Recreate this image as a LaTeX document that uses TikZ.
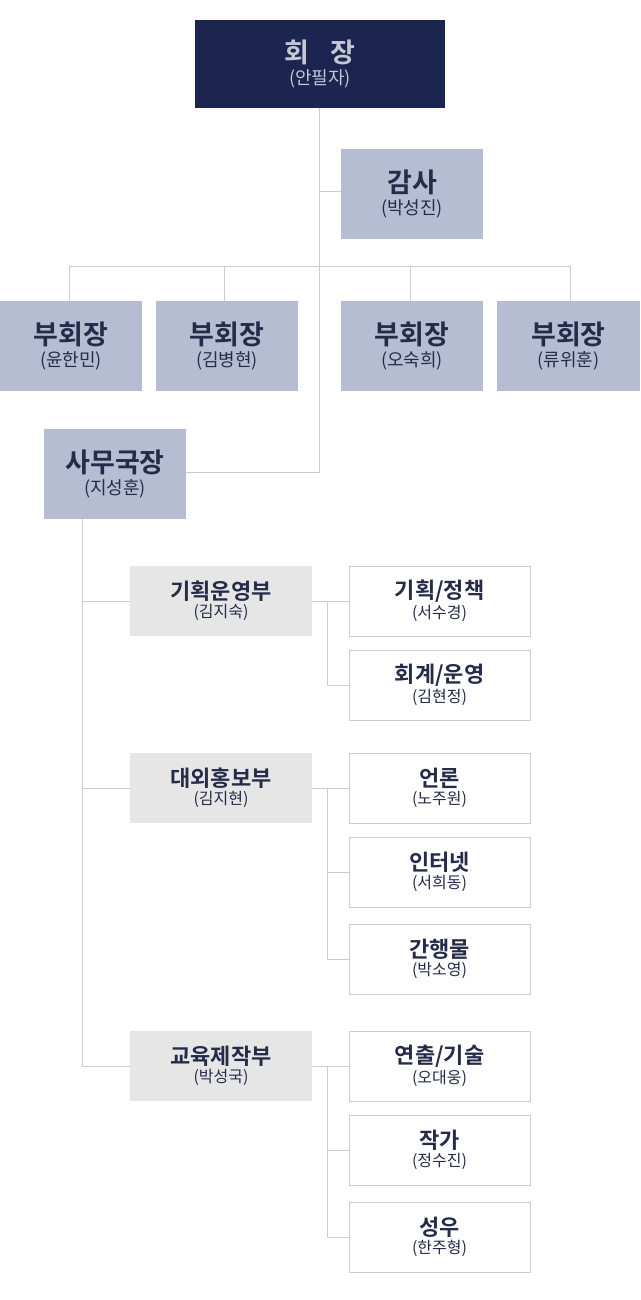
\documentclass[tikz,border=0pt]{standalone}
\usepackage{fontspec}
\setmainfont{Noto Sans CJK KR}
\newfontfamily\bfk{Noto Sans CJK KR Bold}
\definecolor{navy}{HTML}{1B2550}
\definecolor{lav}{HTML}{B6BDD3}
\definecolor{gr}{HTML}{E6E6E6}
\definecolor{ln}{HTML}{CCCCCC}
\definecolor{tx}{HTML}{252B48}
\definecolor{ceotx}{HTML}{C4C8D6}
\begin{document}
\begin{tikzpicture}[x=1pt,y=-1pt,
  ln/.style={draw=ln,line width=1pt},
  top/.style={fill=lav,text=tx},
  dept/.style={fill=gr,text=tx},
  team/.style={fill=white,draw=ln,line width=1pt,text=tx}]
\useasboundingbox (0,0) rectangle (640,1300);
\newcommand\bx[7]{% name, style, x1,y1,x2,y2, text
  \path[#2] (#3,#4) rectangle (#5,#6);
  \node[text=tx,align=center,inner sep=0] (#1) at ({(#3+#5)/2},{(#4+#6)/2}) {#7};}
\newcommand\toptx[2]{{\bfk\fontsize{27}{30}\selectfont #1}\\[3pt]{\fontsize{18}{20}\selectfont (#2)}}
\newcommand\deptx[2]{{\bfk\fontsize{22}{25}\selectfont #1}\\[2pt]{\fontsize{16}{18}\selectfont (#2)}}
% lines first
\draw[ln] (319,108) -- (319,472) -- (186,472);
\draw[ln] (319,192) -- (341,192);
\draw[ln] (69,301) -- (69,266) -- (570,266) -- (570,301);
\draw[ln] (224,266) -- (224,301);
\draw[ln] (410,266) -- (410,301);
\draw[ln] (82,519) -- (82,1066);
\foreach \y in {601,788,1066}{\draw[ln] (82,\y) -- (130,\y);}
\draw[ln] (312,601) -- (349,601); \draw[ln] (327,601) |- (349,685);
\draw[ln] (312,788) -- (349,788); \draw[ln] (327,788) |- (349,872); \draw[ln] (327,872) |- (349,959);
\draw[ln] (312,1066) -- (349,1066); \draw[ln] (327,1066) |- (349,1150); \draw[ln] (327,1150) |- (349,1237);
% boxes
\path[fill=navy] (195,20) rectangle (445,108);
\node[text=ceotx,align=center,inner sep=0] (ceo) at (320,64) {{\bfk\fontsize{27}{30}\selectfont 회\hspace{22pt}장}\\[3pt]{\fontsize{18}{20}\selectfont (안필자)}};
\bx{aud}{top}{341}{149}{483}{239}{\toptx{감사}{박성진}}
\bx{v1}{top}{0}{301}{142}{391}{\toptx{부회장}{윤한민}}
\bx{v2}{top}{156}{301}{298}{391}{\toptx{부회장}{김병현}}
\bx{v3}{top}{341}{301}{483}{391}{\toptx{부회장}{오숙희}}
\bx{v4}{top}{497}{301}{640}{391}{\toptx{부회장}{류위훈}}
\bx{sec}{top}{44}{429}{186}{519}{\toptx{사무국장}{지성훈}}
\bx{d1}{dept}{130}{566}{312}{636}{\deptx{기획운영부}{김지숙}}
\bx{d2}{dept}{130}{753}{312}{823}{\deptx{대외홍보부}{김지현}}
\bx{d3}{dept}{130}{1031}{312}{1101}{\deptx{교육제작부}{박성국}}
\bx{t1}{team}{349}{566}{530}{636}{\deptx{기획/정책}{서수경}}
\bx{t2}{team}{349}{650}{530}{720}{\deptx{회계/운영}{김현정}}
\bx{t3}{team}{349}{753}{530}{823}{\deptx{언론}{노주원}}
\bx{t4}{team}{349}{837}{530}{907}{\deptx{인터넷}{서희동}}
\bx{t5}{team}{349}{924}{530}{994}{\deptx{간행물}{박소영}}
\bx{t6}{team}{349}{1031}{530}{1101}{\deptx{연출/기술}{오대웅}}
\bx{t7}{team}{349}{1115}{530}{1185}{\deptx{작가}{정수진}}
\bx{t8}{team}{349}{1202}{530}{1272}{\deptx{성우}{한주형}}
\end{tikzpicture}
\end{document}
